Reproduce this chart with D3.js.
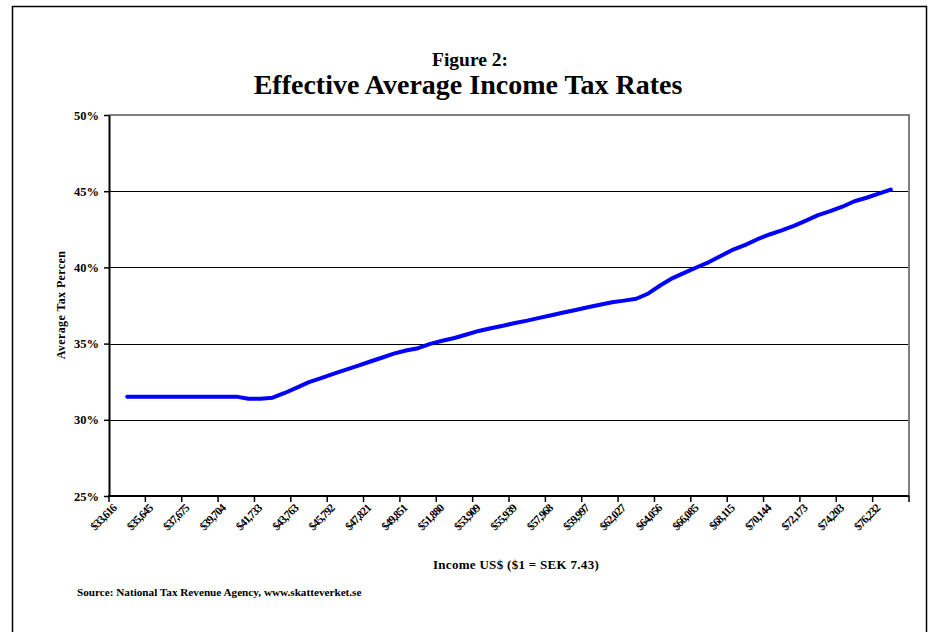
<!DOCTYPE html>
<html>
<head>
<meta charset="utf-8">
<script src="https://cdn.jsdelivr.net/npm/d3@7"></script>
<style>
	body { margin: 0; background: #fff; }
	svg text { font-family: 'Liberation Serif', 'Times New Roman', serif; font-weight: bold; fill: #000; }
</style>
</head>
<body>
<div id="chart"></div>
<script>
// tick labels shown on the category axis (every 3rd category)
const incomeLabels = ['$33,616', '$35,645', '$37,675', '$39,704', '$41,733', '$43,763', '$45,792', '$47,821',
	'$49,851', '$51,880', '$53,909', '$55,939', '$57,968', '$59,997', '$62,027', '$64,056', '$66,085',
	'$68,115', '$70,144', '$72,173', '$74,203', '$76,232'];

// average tax rate (%) per income category, first and last category empty
const rates = [null,
	31.52, 31.52, 31.52, 31.52, 31.52, 31.52, 31.52, 31.52, 31.52, 31.52,
	31.38, 31.38, 31.45, 31.76, 32.11, 32.47, 32.74, 33.01, 33.28, 33.54,
	33.81, 34.07, 34.34, 34.55, 34.70, 34.98, 35.19, 35.37, 35.60, 35.83,
	36.01, 36.17, 36.35, 36.51, 36.69, 36.86, 37.04, 37.21, 37.39, 37.55,
	37.71, 37.82, 37.94, 38.29, 38.83, 39.30, 39.66, 40.01, 40.35, 40.76,
	41.17, 41.48, 41.85, 42.16, 42.43, 42.72, 43.07, 43.43, 43.69, 43.98,
	44.34, 44.57, 44.84, 45.10,
	null];

const yTicks = [25, 30, 35, 40, 45, 50];
const labelEvery = 3;

const width = 939;
const height = 632;
const plot = { left: 109, right: 909, top: 115, bottom: 496 };

const svg = d3.create('svg').attr('width', width).attr('height', height);

// outer chart border
svg.append('rect')
	.attr('x', 12.5)
	.attr('y', 6.5)
	.attr('width', 914)
	.attr('height', 640)
	.attr('fill', 'none')
	.attr('stroke', '#000')
	.attr('stroke-width', 1.5);

const x = d3.scaleBand().domain(d3.range(rates.length)).range([plot.left, plot.right]).paddingInner(0).paddingOuter(0);
const y = d3.scaleLinear().domain([25, 50]).range([plot.bottom, plot.top]);

// gridlines
svg.append('g')
	.selectAll('line')
	.data(yTicks.filter((d) => d > 25 && d < 50))
	.join('line')
	.attr('x1', plot.left)
	.attr('x2', plot.right)
	.attr('y1', (d) => Math.round(y(d)) + 0.5)
	.attr('y2', (d) => Math.round(y(d)) + 0.5)
	.attr('stroke', '#000')
	.attr('stroke-width', 1);

// gray top + right border of plot area
svg.append('path')
	.attr('d', `M${plot.left},${plot.top}H${plot.right}V${plot.bottom}`)
	.attr('fill', 'none')
	.attr('stroke', '#808080')
	.attr('stroke-width', 2);

// y axis
const yAxis = svg.append('g')
	.attr('transform', `translate(${plot.left},0)`)
	.call(d3.axisLeft(y).tickValues(yTicks).tickFormat((d) => d + '%').tickSize(5).tickSizeOuter(0));
yAxis.select('.domain').attr('stroke', '#000').attr('stroke-width', 2);
yAxis.selectAll('.tick line').attr('stroke', '#000').attr('stroke-width', 1.5);
yAxis.selectAll('.tick text').attr('x', -10).attr('font-size', 12.5).attr('font-family', null);

// x axis line + ticks at category boundaries
const tickIdx = d3.range(0, rates.length, labelEvery);
svg.append('line')
	.attr('x1', plot.left - 1)
	.attr('x2', plot.right)
	.attr('y1', plot.bottom)
	.attr('y2', plot.bottom)
	.attr('stroke', '#000')
	.attr('stroke-width', 2);

svg.append('g')
	.selectAll('line')
	.data(tickIdx.concat([rates.length]))
	.join('line')
	.attr('x1', (d) => (d < rates.length ? x(d) : plot.right))
	.attr('x2', (d) => (d < rates.length ? x(d) : plot.right))
	.attr('y1', plot.bottom)
	.attr('y2', plot.bottom + 6)
	.attr('stroke', '#000')
	.attr('stroke-width', 1.5);

// rotated income labels at category centers
svg.append('g')
	.selectAll('text')
	.data(incomeLabels)
	.join('text')
	.attr('transform', (d, i) => `translate(${x(i * labelEvery) + x.bandwidth() / 2 + 2},${plot.bottom + 13}) rotate(-45)`)
	.attr('text-anchor', 'end')
	.attr('font-size', 11.5)
	.attr('letter-spacing', -0.9)
	.text((d) => d);

// the line
const line = d3.line()
	.defined((d) => d != null)
	.x((d, i) => x(i) + x.bandwidth() / 2)
	.y((d) => y(d));

svg.append('path')
	.datum(rates)
	.attr('d', line)
	.attr('fill', 'none')
	.attr('stroke', '#0000ff')
	.attr('stroke-width', 4)
	.attr('stroke-linejoin', 'round')
	.attr('stroke-linecap', 'round');

// titles
svg.append('text')
	.attr('x', 470)
	.attr('y', 66)
	.attr('text-anchor', 'middle')
	.attr('font-size', 19.5)
	.text('Figure 2:');

svg.append('text')
	.attr('x', 468)
	.attr('y', 94)
	.attr('text-anchor', 'middle')
	.attr('font-size', 28)
	.text('Effective Average Income Tax Rates');

svg.append('text')
	.attr('transform', 'translate(65,305) rotate(-90)')
	.attr('text-anchor', 'middle')
	.attr('font-size', 12)
	.attr('letter-spacing', 0.4)
	.text('Average Tax Percen');

svg.append('text')
	.attr('x', 516)
	.attr('y', 569)
	.attr('text-anchor', 'middle')
	.attr('font-size', 13)
	.attr('letter-spacing', 0.3)
	.text('Income US$ ($1 = SEK 7.43)');

svg.append('text')
	.attr('x', 77)
	.attr('y', 596)
	.attr('font-size', 11.2)
	.text('Source: National Tax Revenue Agency, www.skatteverket.se');

d3.select('#chart').append(() => svg.node());
</script>
</body>
</html>
